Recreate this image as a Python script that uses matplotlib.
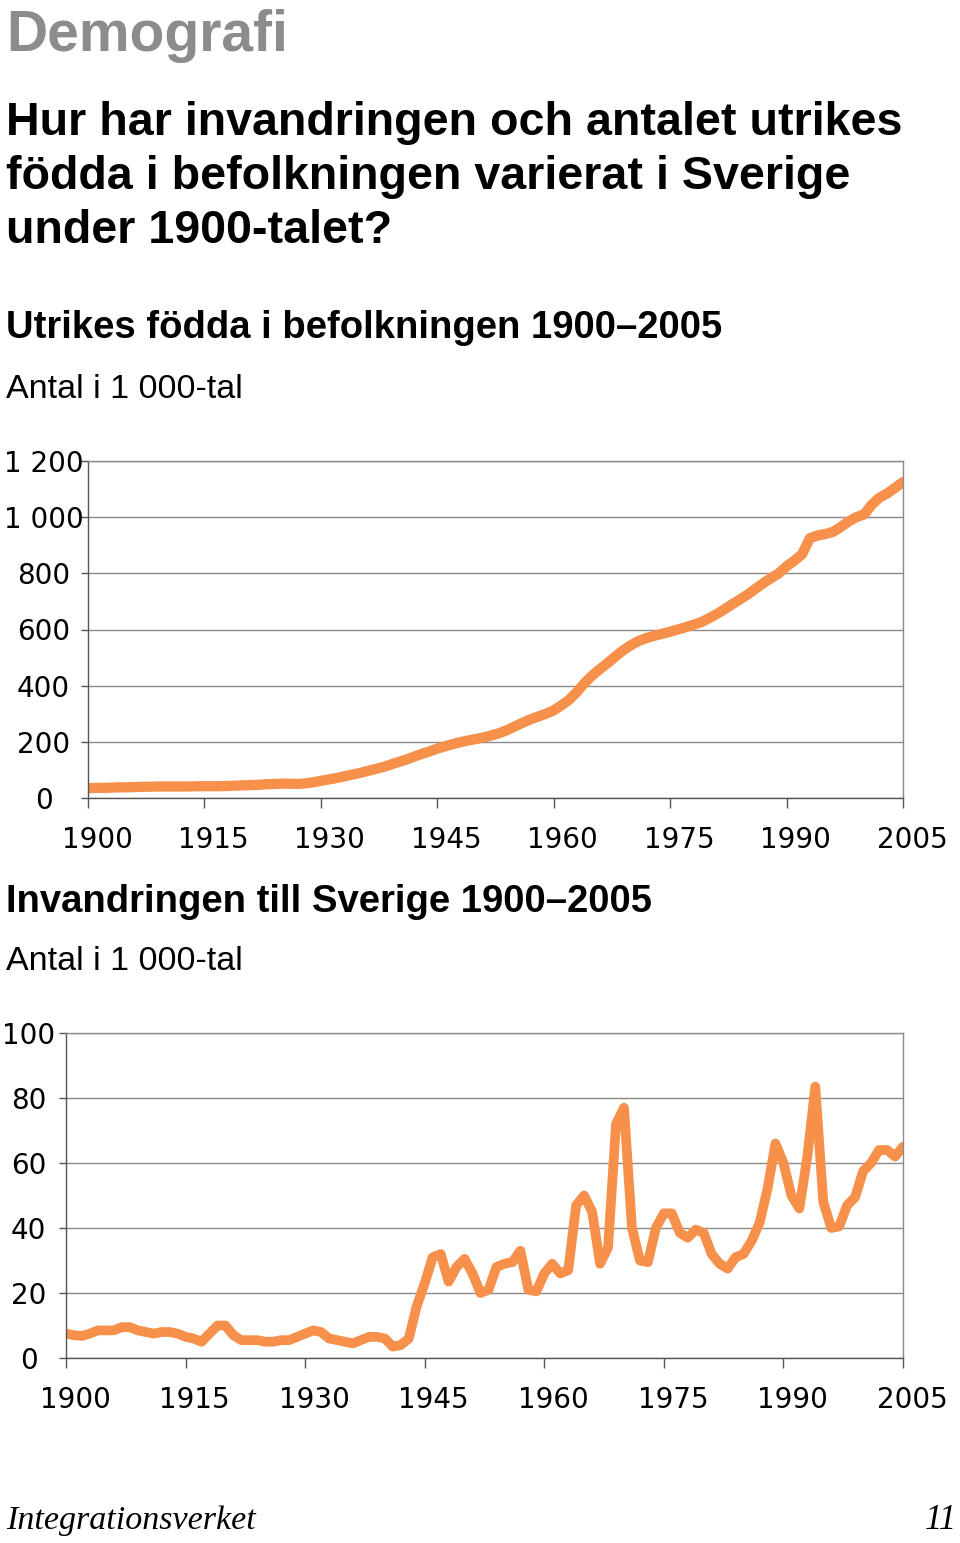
import matplotlib.pyplot as plt
import matplotlib.transforms as mtransforms

# Utrikes födda i befolkningen, 1 000-tal
years = list(range(1900, 2006))
foreign_born = [
    35, 36, 36, 37, 38, 38, 39, 40, 40, 41,
    41, 41, 41, 41, 42, 42, 42, 42, 43, 44,
    45, 46, 47, 49, 50, 51, 51, 50, 52, 56,
    61, 66, 71, 77, 83, 89, 96, 103, 110, 119,
    128, 137, 147, 157, 166, 176, 184, 192, 199, 205,
    210, 216, 223, 231, 242, 255, 268, 280, 290, 300,
    312, 330, 350, 378, 410, 437, 460, 482, 505, 527,
    545, 560, 570, 578, 585, 592, 600, 608, 617, 626,
    640, 655, 672, 690, 707, 725, 745, 765, 783, 800,
    825, 845, 868, 925, 935, 940, 948, 965, 985, 1000,
    1010, 1045, 1070, 1085, 1105, 1125,
]

# Invandringen till Sverige, 1 000-tal
immigration = [
    7.5, 7, 6.8, 7.5, 8.5, 8.5, 8.5, 9.5, 9.5, 8.5,
    8, 7.5, 8, 8, 7.5, 6.5, 6, 5, 7.5, 10,
    10, 7, 5.5, 5.5, 5.5, 5, 5, 5.5, 5.5, 6.5,
    7.5, 8.5, 8, 6, 5.5, 5, 4.5, 5.5, 6.5, 6.5,
    6, 3.5, 4, 6, 16, 23, 31, 32, 23.5, 28,
    30.5, 26, 20, 21, 28, 29, 29.5, 33, 21, 20.5,
    26, 29, 26, 27, 47, 50, 45, 29, 34, 72,
    77, 40, 30, 29.5, 40, 44.5, 44.5, 38.5, 37, 39.5,
    38.5, 32, 29, 27.5, 31, 32, 36, 41.5, 52, 66,
    60, 50, 46, 62, 83.5, 48, 40, 40.5, 47, 49.5,
    57.5, 60, 64, 64, 62, 65,
]

xticks = [1900, 1915, 1930, 1945, 1960, 1975, 1990, 2005]
yticks1 = [0, 200, 400, 600, 800, 1000, 1200]
ylabels1 = ["0", "200", "400", "600", "800", "1 000", "1 200"]
yticks2 = [0, 20, 40, 60, 80, 100]

orange = "#F7904A"
W, H = 960, 1543
fig = plt.figure(figsize=(W / 100, H / 100), dpi=100)

sans = ["Liberation Sans", "DejaVu Sans"]
serif = ["Liberation Serif", "DejaVu Serif"]


def fy(px):
    return 1 - px / H


fig.text(6 / W, fy(51), "Demografi", fontsize=41, fontweight="bold",
         color="#8c8c8c", family=sans, va="baseline")
question = ["Hur har invandringen och antalet utrikes",
            "födda i befolkningen varierat i Sverige",
            "under 1900-talet?"]
for i, line in enumerate(question):
    fig.text(6 / W, fy(135 + 54 * i), line, fontsize=33.6, fontweight="bold",
             family=sans, va="baseline")

fig.text(6 / W, fy(338), "Utrikes födda i befolkningen 1900–2005", fontsize=27.5,
         fontweight="bold", family=sans, va="baseline")
fig.text(6 / W, fy(398), "Antal i 1 000-tal", fontsize=24.5, family=sans, va="baseline")
fig.text(6 / W, fy(912), "Invandringen till Sverige 1900–2005", fontsize=27.5,
         fontweight="bold", family=sans, va="baseline")
fig.text(6 / W, fy(970), "Antal i 1 000-tal", fontsize=24.5, family=sans, va="baseline")

fig.text(6 / W, fy(1529), "Integrationsverket", fontsize=24.5, style="italic",
         family=serif, va="baseline")
fig.text(957 / W, fy(1529), "11", fontsize=25, style="italic", ha="right",
         family=serif, va="baseline")


def style_axes(ax, ypad):
    ax.set_xlim(1900, 2005)
    ax.set_xticks(xticks)
    ax.set_xticklabels([str(x) for x in xticks])
    ax.grid(axis="y", color="#8a8a8a", linewidth=1)
    ax.set_axisbelow(True)
    for s in ["top", "right"]:
        ax.spines[s].set_color("#8a8a8a")
        ax.spines[s].set_linewidth(1)
    for s in ["left", "bottom"]:
        ax.spines[s].set_color("#555555")
        ax.spines[s].set_linewidth(1)
    ax.tick_params(axis="x", length=7, width=1, color="#555555", pad=13,
                   labelsize=20)
    ax.tick_params(axis="y", length=5, width=1, color="#555555", pad=ypad,
                   labelsize=20)
    offset = mtransforms.ScaledTranslation(9 / 100, 0, fig.dpi_scale_trans)
    for lab in ax.get_xticklabels():
        lab.set_transform(lab.get_transform() + offset)
        lab.set_family("DejaVu Sans")
    for lab in ax.get_yticklabels():
        lab.set_ha("center")
        lab.set_family("DejaVu Sans")


ax1 = fig.add_axes([88 / W, fy(798), (903 - 88) / W, (798 - 461) / H])
ax1.plot(years, foreign_born, color=orange, linewidth=7.4,
         solid_joinstyle="round", solid_capstyle="round")
ax1.set_ylim(0, 1200)
ax1.set_yticks(yticks1)
ax1.set_yticklabels(ylabels1)
style_axes(ax1, 27)

ax2 = fig.add_axes([66 / W, fy(1358), (903 - 66) / W, (1358 - 1033) / H])
ax2.plot(years, immigration, color=orange, linewidth=7,
         solid_joinstyle="round", solid_capstyle="round")
ax2.set_ylim(0, 100)
ax2.set_yticks(yticks2)
ax2.set_yticklabels([str(v) for v in yticks2])
style_axes(ax2, 22)

fig.savefig("out.png", dpi=100)
